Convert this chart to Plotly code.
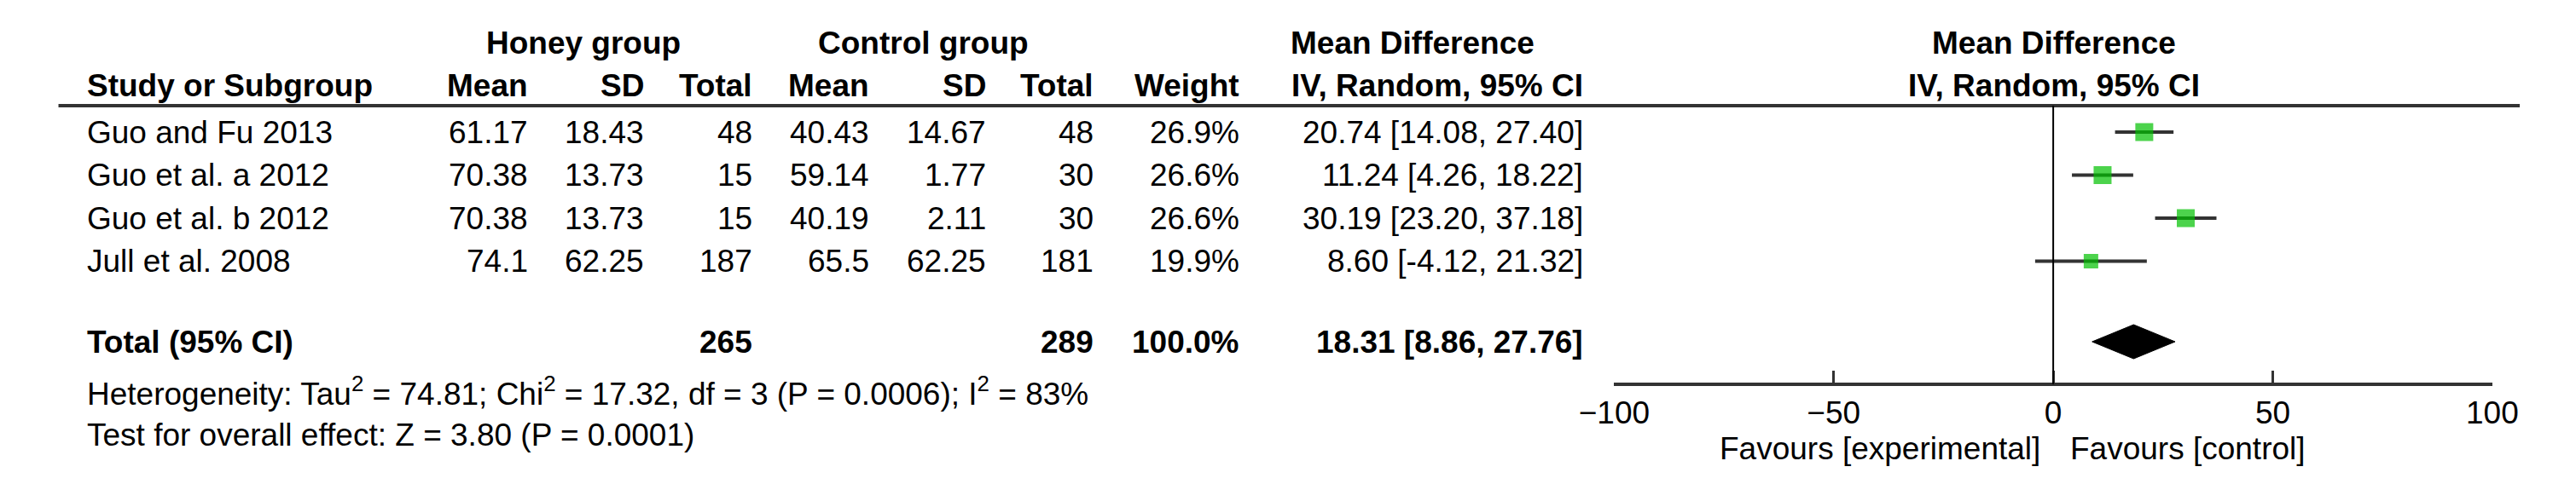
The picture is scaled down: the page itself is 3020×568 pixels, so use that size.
import plotly.graph_objects as go

studies = ["Guo and Fu 2013", "Guo et al. a 2012", "Guo et al. b 2012", "Jull et al. 2008"]
h_mean = ["61.17", "70.38", "70.38", "74.1"]
h_sd = ["18.43", "13.73", "13.73", "62.25"]
h_n = ["48", "15", "15", "187"]
c_mean = ["40.43", "59.14", "40.19", "65.5"]
c_sd = ["14.67", "1.77", "2.11", "62.25"]
c_n = ["48", "30", "30", "181"]
weight_pct = [26.9, 26.6, 26.6, 19.9]
md = [20.74, 11.24, 30.19, 8.60]
lo = [14.08, 4.26, 23.20, -4.12]
hi = [27.40, 18.22, 37.18, 21.32]
total_h, total_c = "265", "289"
tot_md, tot_lo, tot_hi = 18.31, 8.86, 27.76
ticks = [-100, -50, 0, 50, 100]

W, H = 3020, 568
FONT = "Liberation Sans, Arial, sans-serif"
FS = 37
row_y0, row_dy = 147, 50.5
total_y = 393
ann = []

def t(x, y, s, anchor="right", bold=False):
    ann.append(dict(x=x, y=y, xref="x", yref="y", text=f"<b>{s}</b>" if bold else s,
                    showarrow=False, xanchor=anchor, yanchor="middle",
                    font=dict(family=FONT, size=FS, color="black")))

# headers
t(650, 42, "Honey group", "center", True)
t(1058, 42, "Control group", "center", True)
t(1646, 42, "Mean Difference", "center", True)
t(2416, 42, "Mean Difference", "center", True)
t(51, 92, "Study or Subgroup", "left", True)
for x, s in [(585, "Mean"), (725, "SD"), (855, "Total"), (995, "Mean"), (1135, "SD"),
             (1265, "Total"), (1440, "Weight"), (1853, "IV, Random, 95% CI")]:
    t(x, 92, s, "right", True)
t(2416, 92, "IV, Random, 95% CI", "center", True)

for i, s in enumerate(studies):
    y = row_y0 + i * row_dy
    t(51, y, s, "left")
    t(585, y, h_mean[i]); t(725, y, h_sd[i]); t(855, y, h_n[i])
    t(995, y, c_mean[i]); t(1135, y, c_sd[i]); t(1265, y, c_n[i])
    t(1440, y, f"{weight_pct[i]:.1f}%")
    t(1853, y, f"{md[i]:.2f} [{lo[i]:.2f}, {hi[i]:.2f}]")

t(51, total_y, "Total (95% CI)", "left", True)
t(855, total_y, total_h, "right", True)
t(1265, total_y, total_c, "right", True)
t(1440, total_y, "100.0%", "right", True)
t(1853, total_y, f"{tot_md:.2f} [{tot_lo:.2f}, {tot_hi:.2f}]", "right", True)
t(51, 451, "Heterogeneity: Tau<sup>2</sup> = 74.81; Chi<sup>2</sup> = 17.32, df = 3 (P = 0.0006); I<sup>2</sup> = 83%", "left")
t(51, 502, "Test for overall effect: Z = 3.80 (P = 0.0001)", "left")
t(2402, 518, "Favours [experimental]", "right")
t(2434, 518, "Favours [control]", "left")

fig = go.Figure()
ys = [row_y0 + i * row_dy for i in range(len(studies))]
for i in range(len(studies)):
    fig.add_trace(go.Scatter(x=[lo[i], hi[i]], y=[ys[i], ys[i]], mode="lines",
                             line=dict(color="#333333", width=4), xaxis="x2", yaxis="y",
                             showlegend=False, hoverinfo="skip"))
sizes = [17 if w < 25 else 21 for w in weight_pct]
fig.add_trace(go.Scatter(x=md, y=ys, mode="markers", xaxis="x2", yaxis="y",
                         marker=dict(symbol="square", size=sizes, color="#00c000",
                                     line=dict(width=0)), showlegend=False))
fig.add_trace(go.Scatter(x=[tot_lo, tot_md, tot_hi, tot_md, tot_lo],
                         y=[total_y, total_y - 20, total_y, total_y + 20, total_y],
                         mode="lines", fill="toself", fillcolor="black",
                         line=dict(color="black", width=1), xaxis="x2", yaxis="y",
                         showlegend=False))

shapes = [
    dict(type="line", xref="x", yref="y", x0=19, x1=2976, y0=116, y1=116,
         line=dict(color="#333333", width=4)),
    dict(type="line", xref="x2", yref="y", x0=0, x1=0, y0=116, y1=443,
         line=dict(color="black", width=2)),
]

fig.update_layout(
    width=W, height=H, margin=dict(l=0, r=0, t=0, b=0),
    paper_bgcolor="white", plot_bgcolor="rgba(0,0,0,0)",
    xaxis=dict(range=[0, W], visible=False, domain=[0, 1]),
    yaxis=dict(range=[H, 0], visible=False),
    xaxis2=dict(range=[-100, 100], domain=[1888 / W, 2943 / W], anchor="free",
                position=1 - 443 / H, tickvals=ticks,
                ticktext=[("\u2212" + str(-v)) if v < 0 else str(v) for v in ticks],
                ticks="inside", ticklen=14, tickwidth=3, tickcolor="#333333",
                showline=True, linecolor="#333333", linewidth=4, showgrid=False,
                zeroline=False, tickfont=dict(family=FONT, size=FS, color="black")),
    annotations=ann, shapes=shapes,
)
fig.write_html("out.html")
